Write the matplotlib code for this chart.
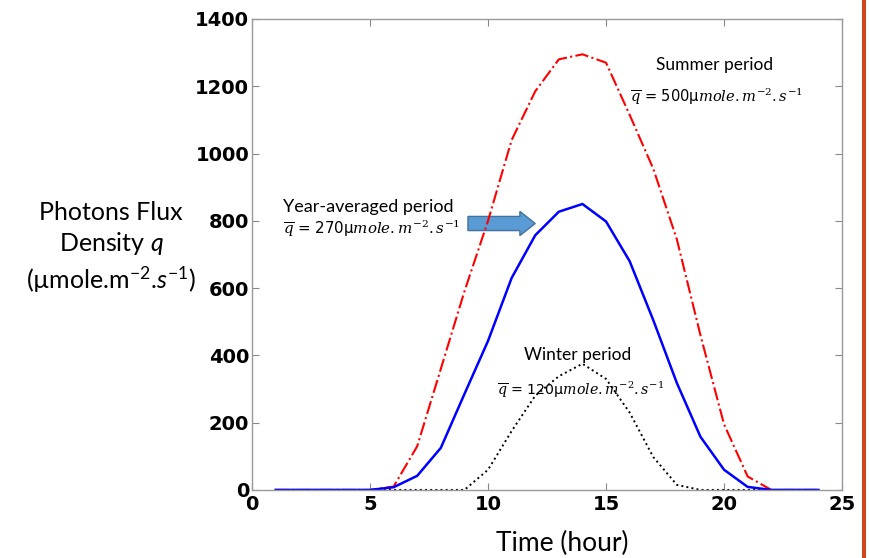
import matplotlib.pyplot as plt
from matplotlib.patches import FancyArrow, Rectangle

# hourly photon flux density (µmole.m-2.s-1)
hours = list(range(1, 25))
summer = [0, 0, 0, 0, 0, 10, 130, 360, 590, 800, 1040, 1185, 1280, 1295, 1270,
          1115, 955, 745, 460, 195, 40, 0, 0, 0]
year_avg = [0, 0, 0, 0, 0, 8, 42, 125, 285, 443, 630, 757, 827, 850, 798,
            680, 505, 318, 158, 60, 9, 0, 0, 0]
winter = [0, 0, 0, 0, 0, 0, 0, 0, 0, 60, 175, 280, 338, 375, 330,
          230, 98, 15, 0, 0, 0, 0, 0, 0]

x_ticks = [0, 5, 10, 15, 20, 25]
y_ticks = [0, 200, 400, 600, 800, 1000, 1200, 1400]

txt_font = ['Lato', 'DejaVu Sans']
# sans math for the axis title, serif math for the q-bar formulas
plt.rcParams['mathtext.fontset'] = 'custom'
plt.rcParams['mathtext.rm'] = 'Lato'
plt.rcParams['mathtext.it'] = 'Lato:italic'

fig = plt.figure(figsize=(8.69, 5.58), dpi=100)
ax = fig.add_axes([0.290, 0.122, 0.679, 0.844])

ax.plot(hours, winter, color='black', linestyle=':', linewidth=1.4)
ax.plot(hours, summer, color='red', linestyle='-.', linewidth=1.5)
ax.plot(hours, year_avg, color='blue', linestyle='-', linewidth=1.8)

ax.set_xlim(0, 25)
ax.set_ylim(0, 1400)
ax.set_xticks(x_ticks)
ax.set_yticks(y_ticks)
ax.tick_params(direction='in', top=True, right=True, length=5, color='#888888',
               labelsize=14)
ax.tick_params(axis='x', pad=4)
ax.tick_params(axis='y', pad=2)
for lab in ax.get_xticklabels() + ax.get_yticklabels():
    lab.set_fontweight('bold')
    lab.set_family('DejaVu Sans')
for s in ax.spines.values():
    s.set_color('#999999')
    s.set_linewidth(1.0)

# axis titles (placed as in the slide)
fig.text(111 / 869, 1 - 248 / 558,
         'Photons Flux\nDensity $\\mathit{q}$\n(µmole.m$^{-2}$.$\\mathit{s}^{-1}$)',
         ha='center', va='center', fontsize=18, family=txt_font, linespacing=1.3)
fig.text(562 / 869, 1 - 543 / 558, 'Time (hour)', ha='center', va='center',
         fontsize=19, family=txt_font)

# annotations
ax.text(19.6, 1262, 'Summer period', ha='center', va='center', fontsize=12.5, family=txt_font)
ax.text(16.0, 1168, '$\\overline{q}$ = 500μ$mole.m^{-2}.s^{-1}$', ha='left', va='center',
        fontsize=10.5, math_fontfamily='dejavuserif')
ax.text(1.3, 840, 'Year-averaged period', ha='left', va='center', fontsize=13, family=txt_font)
ax.text(1.3, 777, '$\\overline{q}$ = 270μ$mole.m^{-2}.s^{-1}$', ha='left', va='center',
        fontsize=10.8, math_fontfamily='dejavuserif')
ax.text(13.8, 400, 'Winter period', ha='center', va='center', fontsize=12.5, family=txt_font)
ax.text(10.4, 296, '$\\overline{q}$ = 120μ$mole.m^{-2}.s^{-1}$', ha='left', va='center',
        fontsize=10.2, math_fontfamily='dejavuserif')

arrow = FancyArrow(9.15, 792, 2.2, 0, width=42, head_width=72, head_length=0.65,
                   length_includes_head=False, facecolor='#5B9BD5', edgecolor='#41719C',
                   linewidth=1.0)
ax.add_patch(arrow)

# slide border on the right
fig.patches.append(Rectangle((862 / 869, 0), 4 / 869, 1, transform=fig.transFigure,
                             facecolor='#D2461E', edgecolor='none'))

fig.savefig('out.png', dpi=100)
